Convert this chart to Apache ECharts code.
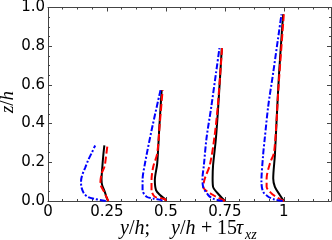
<!DOCTYPE html>
<html><head><meta charset="utf-8">
<script src="https://cdn.jsdelivr.net/npm/echarts@6/dist/echarts.min.js"></script>
<style>html,body{margin:0;padding:0;background:#fff}#c{width:332px;height:240px}</style>
</head><body><div id="c"></div>
<script>
// x-axis tick values and labels
const xTickValues = [0, 0.25, 0.5, 0.75, 1];
const xTickLabels = ['0', '0.25', '0.5', '0.75', '1'];
// each profile: [x = y/h + 15*tau_xz, z/h]
const black1 = [[0.254,0],[0.248,0.02],[0.240,0.05],[0.230,0.08],[0.227,0.11],[0.230,0.17],[0.234,0.23],[0.239,0.287]];
const red1   = [[0.256,0],[0.248,0.02],[0.237,0.05],[0.222,0.09],[0.227,0.14],[0.240,0.18],[0.246,0.23],[0.252,0.287]];
const blue1  = [[0.245,0],[0.200,0.01],[0.170,0.02],[0.152,0.04],[0.142,0.07],[0.140,0.10],[0.144,0.13],[0.157,0.17],[0.170,0.21],[0.186,0.25],[0.200,0.287]];

const black2 = [[0.500,0],[0.496,0.009],[0.475,0.031],[0.458,0.056],[0.453,0.108],[0.463,0.193],[0.472,0.38],[0.482,0.573]];
const red2   = [[0.500,0],[0.496,0.009],[0.453,0.022],[0.439,0.056],[0.439,0.108],[0.446,0.176],[0.463,0.245],[0.474,0.40],[0.486,0.573]];
const blue2  = [[0.480,0],[0.482,0.003],[0.450,0.012],[0.418,0.022],[0.401,0.056],[0.401,0.108],[0.411,0.193],[0.439,0.364],[0.477,0.573]];

const black3 = [[0.750,0],[0.726,0.031],[0.700,0.073],[0.698,0.116],[0.700,0.185],[0.712,0.323],[0.722,0.492],[0.737,0.79]];
const red3   = [[0.750,0],[0.700,0.031],[0.658,0.073],[0.665,0.116],[0.686,0.185],[0.705,0.323],[0.720,0.492],[0.738,0.79]];
const blue3  = [[0.740,0],[0.700,0.012],[0.679,0.031],[0.658,0.073],[0.655,0.116],[0.661,0.185],[0.672,0.323],[0.693,0.492],[0.727,0.79]];

const black4 = [[1.000,0],[0.983,0.031],[0.962,0.073],[0.955,0.116],[0.962,0.236],[0.969,0.408],[0.980,0.664],[0.997,0.965]];
const red4   = [[1.000,0],[0.980,0.012],[0.948,0.039],[0.927,0.073],[0.927,0.116],[0.941,0.194],[0.959,0.254],[0.978,0.60],[1.000,0.965]];
const blue4  = [[0.995,0],[0.960,0.008],[0.934,0.022],[0.912,0.048],[0.905,0.099],[0.912,0.236],[0.919,0.322],[0.934,0.492],[0.955,0.664],[0.990,0.965]];

const profiles = [
  {data: black1, kind: 'black'}, {data: red1, kind: 'red'}, {data: blue1, kind: 'blue'},
  {data: black2, kind: 'black'}, {data: red2, kind: 'red'}, {data: blue2, kind: 'blue'},
  {data: black3, kind: 'black'}, {data: red3, kind: 'red'}, {data: blue3, kind: 'blue'},
  {data: black4, kind: 'black'}, {data: red4, kind: 'red'}, {data: blue4, kind: 'blue'}
];
const styles = {
  black: {color: '#000000', type: 'solid'},
  red: {color: '#ff0000', type: [7, 3]},
  blue: {color: '#0000ff', type: [6, 2, 2, 2]}
};

const axisCol = '#444';
const font = 'DejaVu Sans';
const serifI = 'italic 20px "Liberation Serif"';
const serifN = '20px "Liberation Serif"';
const chart = echarts.init(document.getElementById('c'), null, {renderer: 'canvas'});
const common = {
  axisLine: {show: true, onZero: false, lineStyle: {color: axisCol, width: 1}},
  splitLine: {show: false}
};
function txt(x, y, text, rich) {
  return {type: 'text', x: x, y: y,
    style: {text: text, textAlign: 'left', textVerticalAlign: 'middle', rich: rich}};
}
const richYH = {
  i: {font: serifI, fill: '#000'},
  n: {font: serifN, fill: '#000'}
};
chart.setOption({
  animation: false,
  grid: {left: 48, right: 1, top: 6, bottom: 39},
  xAxis: [
    Object.assign({type: 'value', min: 0, max: 1.2, interval: 0.25, position: 'bottom',
      axisTick: {inside: true, length: 4, lineStyle: {color: axisCol}},
      minorTick: {show: true, splitNumber: 4, length: 2, lineStyle: {color: axisCol}},
      axisLabel: {color: '#000', fontSize: 15, fontFamily: font, margin: 4, showMaxLabel: false,
        formatter: v => { const i = xTickValues.findIndex(t => Math.abs(t - v) < 1e-6); return i >= 0 ? xTickLabels[i] : ''; }}
    }, common),
    Object.assign({type: 'value', min: 0, max: 1.2, interval: 0.25, position: 'top',
      axisTick: {inside: true, length: 4, lineStyle: {color: axisCol}},
      minorTick: {show: true, splitNumber: 4, length: 2, lineStyle: {color: axisCol}},
      axisLabel: {show: false}}, common)
  ],
  yAxis: [
    Object.assign({type: 'value', min: 0, max: 1, interval: 0.2, position: 'left',
      axisTick: {inside: true, length: 4, lineStyle: {color: axisCol}},
      minorTick: {show: true, splitNumber: 4, length: 2, lineStyle: {color: axisCol}},
      axisLabel: {color: '#000', fontSize: 15, fontFamily: font, margin: 3, formatter: v => v.toFixed(1)}
    }, common),
    Object.assign({type: 'value', min: 0, max: 1, interval: 0.2, position: 'right',
      axisTick: {inside: true, length: 4, lineStyle: {color: axisCol}},
      minorTick: {show: true, splitNumber: 4, length: 2, lineStyle: {color: axisCol}},
      axisLabel: {show: false}}, common)
  ],
  series: profiles.map(p => ({
    type: 'line', data: p.data, showSymbol: false, symbol: 'none', smooth: 0.3,
    xAxisIndex: 0, yAxisIndex: 0, clip: false,
    lineStyle: {color: styles[p.kind].color, type: styles[p.kind].type, width: 2}
  })),
  graphic: [
    {type: 'text', x: 8, y: 102, rotation: Math.PI / 2,
      style: {text: '{i|z}{n|/}{i|h}', textAlign: 'center', textVerticalAlign: 'middle',
        rich: {i: {font: 'italic 19px "Liberation Serif"', fill: '#000'}, n: {font: '19px "Liberation Serif"', fill: '#000'}}}},
    txt(120, 229, '{i|y}{n|/}{i|h}{n|;}', richYH),
    txt(171, 229, '{i|y}{n|/}{i|h}', richYH),
    txt(201, 229, '{n|+}', richYH),
    txt(217, 229, '{n|15}', richYH),
    txt(236, 229, '{i|τ}', richYH),
    {type: 'text', x: 245, y: 235,
      style: {text: 'xz', font: 'italic 14px "Liberation Serif"', fill: '#000', textAlign: 'left', textVerticalAlign: 'middle'}}
  ]
});
</script></body></html>
